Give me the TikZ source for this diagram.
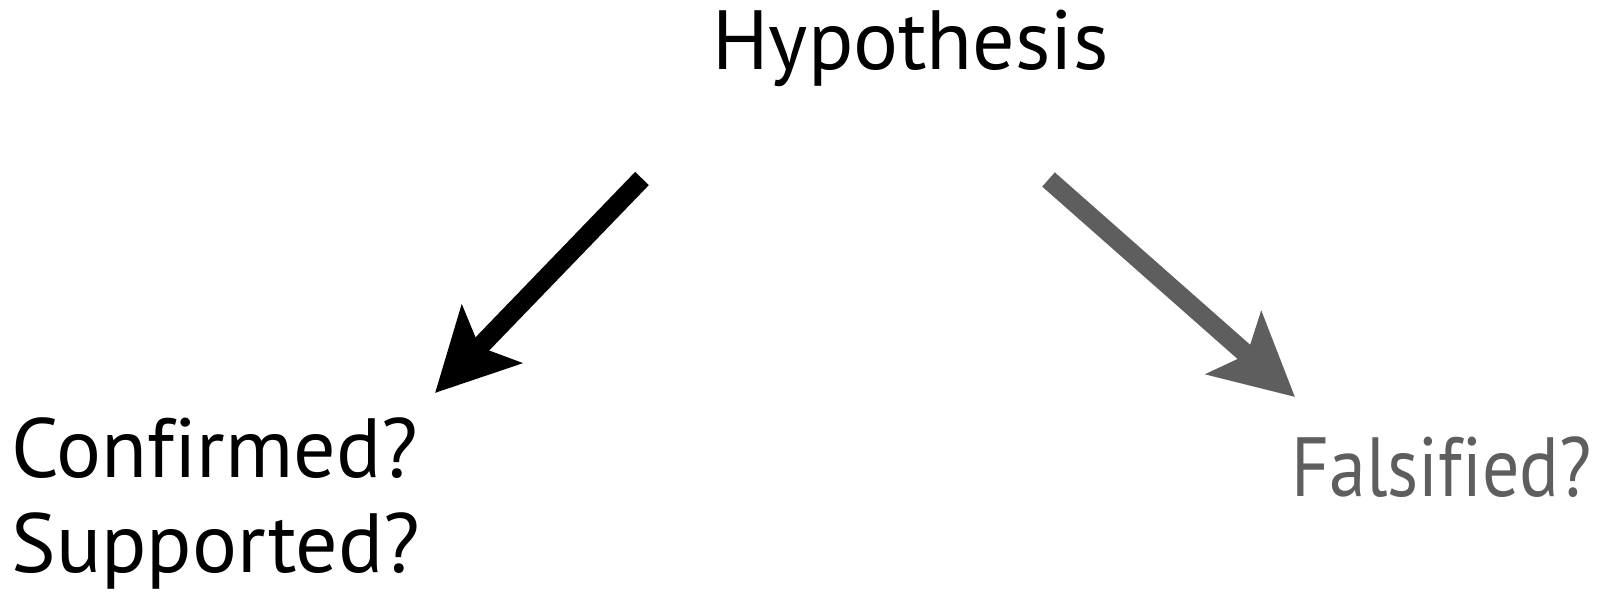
\documentclass[tikz,border=0pt]{standalone}
\usepackage{fontspec}
\setmainfont[Ligatures=CommonOff]{PT Sans}
\newfontfamily\narrowfont[Ligatures=CommonOff, FakeStretch=0.88]{PT Sans}
\usepackage{xcolor}
\usetikzlibrary{arrows.meta,positioning}
\definecolor{falsegray}{HTML}{5E5E5E}

\begin{document}
\begin{tikzpicture}[
  x=0.5pt, y=-0.5pt,
  lbl/.style={font=\fontsize{42}{47}\selectfont, inner sep=0pt, anchor=base west},
  bigarrow/.style={line width=9.5pt, -{Stealth[length=40.5pt, width=41pt, inset=8.5pt]}}
]
  \useasboundingbox (0,0) rectangle (1599,592);

  \node[lbl] (hyp) at (712,70) {Hypothesis};
  \node[lbl] (conf) at (11,478) {Confirmed?};
  \node[lbl, below=47pt of conf.base west, anchor=base west] (supp) {Supported?};
  \node[lbl, font=\narrowfont\fontsize{42}{47}\selectfont, text=falsegray,
        anchor=base east] (fals) at (1592,496) {Falsified?};

  \coordinate (confstart) at (642,178.5);
  \coordinate (conftip) at (435,393);
  \coordinate (falsstart) at (1048.5,179.5);
  \coordinate (falstip) at (1295,397);

  \draw[bigarrow] (confstart) -- (conftip);
  \draw[bigarrow, draw=falsegray, fill=falsegray] (falsstart) -- (falstip);
\end{tikzpicture}
\end{document}
